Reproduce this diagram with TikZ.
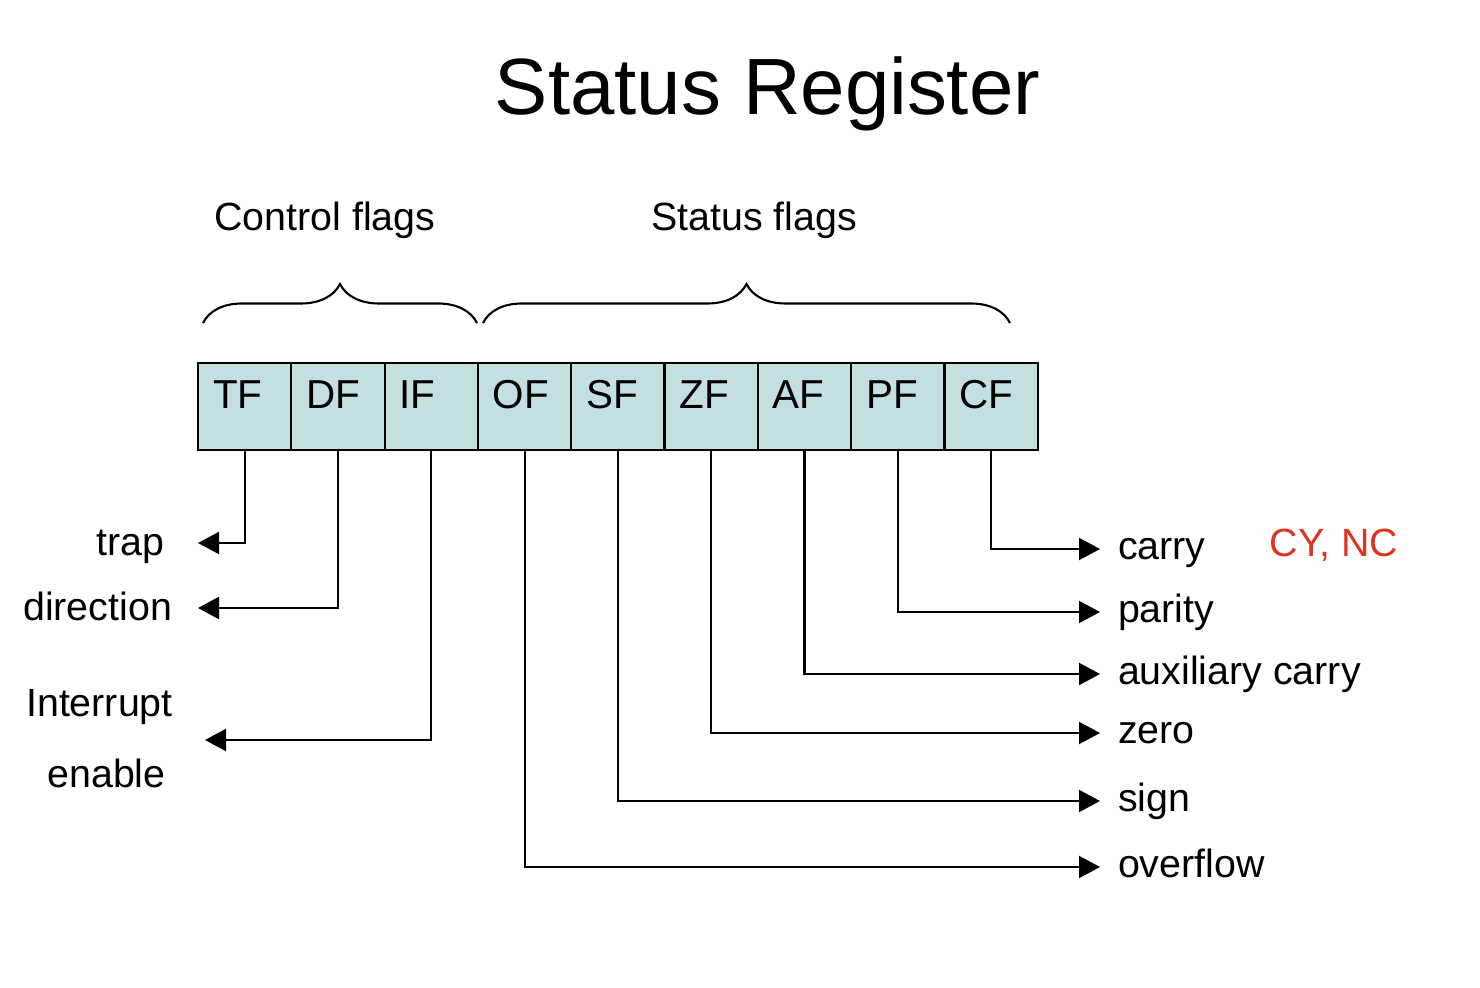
\documentclass[tikz,border=0pt]{standalone}
\usepackage{fontspec}
\setmainfont{Liberation Sans}
\usepackage{xcolor}
\usetikzlibrary{positioning,arrows.meta,decorations.pathreplacing}
\definecolor{cellfill}{RGB}{195,223,225}
\definecolor{flagred}{RGB}{221,52,35}

\begin{document}
\begin{tikzpicture}[
        line width=0.6pt,
        >={Triangle[length=2.1mm,width=2.2mm]},
        cell/.style={draw, fill=cellfill, minimum width=0.933cm, minimum height=0.87cm, outer sep=0pt,
                     inner xsep=0.15cm, text width=0.633cm, align=left, text height=8pt, text depth=6.6pt,
                     font=\fontsize{11.5}{14}\selectfont},
        rlabel/.style={font=\fontsize{11.2}{14}\selectfont, text height=8pt, text depth=1.8pt, inner xsep=0.17cm},
        llabel/.style={font=\fontsize{11.2}{14}\selectfont, text height=9pt, text depth=1.6pt, inner xsep=0pt},
        brc/.style={decorate, decoration={brace, amplitude=0.39cm}}
    ]
    \useasboundingbox (0,0) rectangle (14.8,-9.88);

    % Titre
    \node[font=\fontsize{22.7}{27}\selectfont, anchor=base] (title) at (7.675,-1.15) {Status Register};
    \node[font=\fontsize{11.2}{14}\selectfont, anchor=base] (ctrl) at (3.25,-2.31) {Control flags};
    \node[font=\fontsize{11.2}{14}\selectfont, anchor=base] (stat) at (7.54,-2.31) {Status flags};

    % Accolades
    \draw[brc] (2.03,-3.23) -- (4.77,-3.23);
    \draw[brc] (4.83,-3.23) -- (10.10,-3.23);

    % Registre
    \node[cell] (tf) at (2.447,-4.065) {TF};
    \node[cell, right=0pt of tf] (df) {DF};
    \node[cell, right=0pt of df] (if) {IF};
    \node[cell, right=0pt of if] (of) {OF};
    \node[cell, right=0pt of of] (sf) {SF};
    \node[cell, right=0pt of sf] (zf) {ZF};
    \node[cell, right=0pt of zf] (af) {AF};
    \node[cell, right=0pt of af] (pf) {PF};
    \node[cell, right=0pt of pf] (cf) {CF};

    % Etiquettes
    \node[rlabel, anchor=west] (carry) at (11.0,-5.49) {carry};
    \node[rlabel, anchor=west] (parity) at (11.0,-6.12) {parity};
    \node[rlabel, anchor=west] (aux) at (11.0,-6.74) {auxiliary carry};
    \node[rlabel, anchor=west] (zero) at (11.0,-7.33) {zero};
    \node[rlabel, anchor=west] (sign) at (11.0,-8.01) {sign};
    \node[rlabel, anchor=west] (overflow) at (11.0,-8.67) {overflow};
    \node[rlabel, text=flagred] (cync) at (13.34,-5.46) {CY, NC};

    \node[llabel, anchor=east] (trap) at (1.65,-5.43) {trap};
    \node[llabel, anchor=east] (direction) at (1.73,-6.08) {direction};
    \node[rlabel] (intr) at (0.995,-7.06) {Interrupt};
    \node[rlabel] (enable) at (1.065,-7.77) {enable};
    \coordinate (ietip) at (2.05,-7.40);

    % Fleches
    \draw[->] (cf.south) |- (carry.west);
    \draw[->] (pf.south) |- (parity.west);
    \draw[->] (af.south) |- (aux.west);
    \draw[->] (zf.south) |- (zero.west);
    \draw[->] (sf.south) |- (sign.west);
    \draw[->] (of.south) |- (overflow.west);
    \draw[->, shorten >=0.33cm] (tf.south) |- (trap.east);
    \draw[->, shorten >=0.25cm] (df.south) |- (direction.east);
    \draw[->] (if.south) |- (ietip);
\end{tikzpicture}
\end{document}
